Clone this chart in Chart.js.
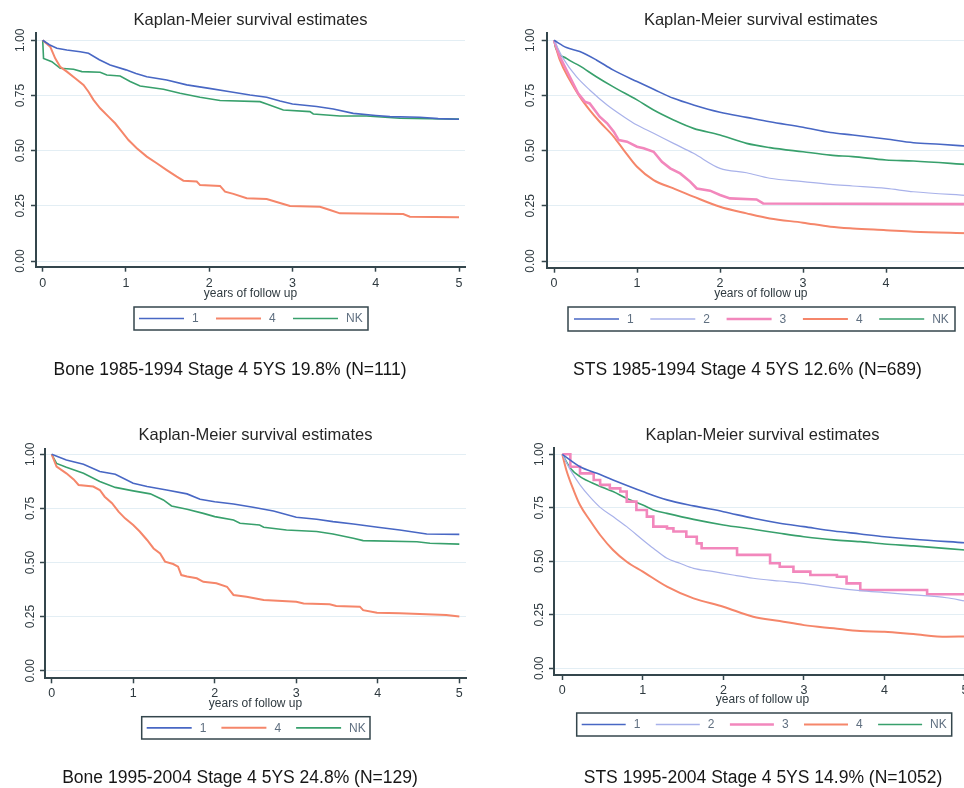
<!DOCTYPE html>
<html>
<head>
<meta charset="utf-8">
<script src="https://cdn.jsdelivr.net/npm/chart.js@4"></script>
<style>
  body { margin: 0; width: 964px; height: 788px; overflow: hidden; background: #fff; position: relative; }
  canvas { position: absolute; }
</style>
</head>
<body>
<canvas id="c1" width="480" height="400" style="left:0;top:0"></canvas>
<canvas id="c2" width="520" height="400" style="left:480px;top:0"></canvas>
<canvas id="c3" width="480" height="388" style="left:0;top:400px"></canvas>
<canvas id="c4" width="520" height="388" style="left:480px;top:400px"></canvas>
<script>
const FONT = "'Liberation Sans', Arial, sans-serif"

const xTicks = [0, 1, 2, 3, 4, 5]
const yTicks = [0, 0.25, 0.5, 0.75, 1]
const groups3 = ['1', '4', 'NK']
const groups5 = ['1', '2', '3', '4', 'NK']

// [years, survival]
const bone8594_1 = [[0,1],[0.08,0.98],[0.17,0.964],[0.29,0.956],[0.45,0.948],[0.55,0.941],[0.68,0.912],[0.81,0.888],[1.0,0.866],[1.12,0.85],[1.25,0.835],[1.49,0.82],[1.73,0.798],[2.0,0.782],[2.25,0.767],[2.49,0.752],[2.69,0.742],[2.85,0.725],[3.0,0.711],[3.29,0.70],[3.49,0.689],[3.73,0.669],[4.0,0.659],[4.17,0.654],[4.53,0.651],[4.75,0.645],[5,0.642]]
const bone8594_4 = [[0,1],[0.09,0.971],[0.15,0.918],[0.21,0.88],[0.29,0.858],[0.39,0.828],[0.49,0.798],[0.55,0.767],[0.61,0.73],[0.69,0.692],[0.79,0.654],[0.87,0.624],[0.95,0.586],[1.03,0.548],[1.13,0.511],[1.25,0.473],[1.37,0.443],[1.49,0.412],[1.61,0.382],[1.69,0.364],[1.85,0.36],[1.89,0.344],[2.13,0.34],[2.19,0.314],[2.29,0.304],[2.45,0.284],[2.69,0.281],[2.89,0.258],[2.97,0.249],[3.33,0.246],[3.45,0.231],[3.57,0.216],[4.33,0.213],[4.41,0.201],[5,0.198]]
const bone8594_nk = [[0,1],[0.01,0.918],[0.11,0.903],[0.21,0.873],[0.37,0.869],[0.47,0.858],[0.69,0.855],[0.77,0.843],[0.93,0.838],[1.05,0.813],[1.17,0.793],[1.45,0.778],[1.65,0.76],[1.89,0.742],[2.13,0.727],[2.61,0.722],[2.69,0.711],[2.89,0.684],[3.21,0.677],[3.25,0.666],[3.57,0.657],[3.89,0.657],[4.29,0.647],[5,0.643]]

const sts8594_1 = [[0,1],[0.15,0.967],[0.31,0.949],[0.51,0.911],[0.71,0.866],[1.0,0.813],[1.2,0.778],[1.44,0.737],[1.68,0.707],[2.0,0.674],[2.32,0.651],[2.6,0.631],[3.0,0.606],[3.33,0.582],[3.6,0.571],[4.0,0.553],[4.33,0.536],[4.65,0.529],[5,0.52]]
const sts8594_2 = [[0,1],[0.11,0.918],[0.27,0.835],[0.43,0.775],[0.64,0.707],[0.84,0.654],[1.0,0.616],[1.2,0.579],[1.44,0.533],[1.68,0.488],[2.0,0.42],[2.32,0.40],[2.6,0.375],[3.0,0.36],[3.33,0.347],[3.6,0.34],[4.0,0.329],[4.33,0.314],[5,0.297]]
const sts8594_3 = [[0,1],[0.07,0.926],[0.19,0.835],[0.29,0.76],[0.37,0.722],[0.43,0.714],[0.49,0.684],[0.55,0.654],[0.64,0.624],[0.72,0.586],[0.78,0.548],[0.88,0.541],[1.0,0.518],[1.08,0.511],[1.2,0.495],[1.3,0.45],[1.4,0.42],[1.52,0.397],[1.64,0.36],[1.72,0.329],[1.88,0.319],[2.0,0.299],[2.12,0.284],[2.44,0.279],[2.52,0.261],[5,0.258]]
const sts8594_4 = [[0,1],[0.07,0.911],[0.19,0.82],[0.31,0.745],[0.43,0.684],[0.55,0.631],[0.72,0.563],[0.84,0.503],[1.0,0.427],[1.2,0.367],[1.44,0.329],[1.68,0.292],[2.0,0.246],[2.32,0.216],[2.6,0.193],[3.0,0.174],[3.33,0.156],[3.6,0.148],[4.0,0.14],[4.33,0.133],[5,0.126]]
const sts8594_nk = [[0,1],[0.02,0.965],[0.15,0.918],[0.31,0.884],[0.51,0.835],[0.71,0.79],[1.0,0.73],[1.2,0.684],[1.44,0.639],[1.68,0.601],[2.0,0.571],[2.32,0.533],[2.6,0.514],[3.0,0.495],[3.33,0.48],[3.6,0.473],[4.0,0.458],[4.33,0.453],[5,0.437]]

const bone9504_1 = [[0,1],[0.18,0.974],[0.39,0.954],[0.59,0.92],[0.78,0.908],[1.0,0.866],[1.17,0.851],[1.41,0.835],[1.66,0.817],[1.82,0.792],[2.0,0.781],[2.23,0.77],[2.47,0.755],[2.72,0.738],[3.0,0.709],[3.25,0.70],[3.45,0.689],[3.7,0.678],[4.0,0.663],[4.27,0.65],[4.6,0.632],[5,0.63]]
const bone9504_4 = [[0,1],[0.06,0.943],[0.18,0.912],[0.27,0.884],[0.33,0.858],[0.51,0.851],[0.59,0.835],[0.65,0.804],[0.74,0.774],[0.82,0.735],[0.9,0.704],[1.0,0.673],[1.08,0.643],[1.17,0.604],[1.25,0.565],[1.33,0.542],[1.39,0.504],[1.49,0.493],[1.55,0.481],[1.59,0.442],[1.66,0.435],[1.78,0.427],[1.86,0.411],[2.02,0.404],[2.15,0.388],[2.23,0.35],[2.39,0.342],[2.6,0.327],[3.0,0.319],[3.09,0.311],[3.41,0.307],[3.49,0.299],[3.78,0.296],[3.82,0.28],[3.99,0.268],[4.27,0.265],[4.84,0.257],[5,0.25]]
const bone9504_nk = [[0,1],[0.06,0.958],[0.18,0.94],[0.39,0.912],[0.59,0.874],[0.78,0.847],[1.0,0.831],[1.21,0.817],[1.37,0.789],[1.47,0.761],[1.66,0.746],[1.86,0.727],[2.0,0.712],[2.23,0.696],[2.31,0.681],[2.55,0.673],[2.6,0.663],[2.88,0.65],[3.25,0.643],[3.45,0.632],[3.7,0.612],[3.82,0.601],[4.48,0.596],[4.64,0.589],[5,0.585]]

const sts9504_1 = [[0,1],[0.22,0.942],[0.43,0.911],[0.63,0.88],[1.0,0.826],[1.3,0.787],[1.63,0.759],[2.0,0.732],[2.37,0.701],[2.7,0.678],[3.0,0.662],[3.37,0.642],[3.7,0.628],[4.0,0.615],[4.36,0.603],[5,0.587]]
const sts9504_2 = [[0,1],[0.1,0.927],[0.22,0.857],[0.34,0.802],[0.47,0.752],[0.63,0.709],[0.8,0.662],[1.0,0.6],[1.13,0.561],[1.3,0.514],[1.46,0.491],[1.63,0.467],[1.88,0.452],[2.12,0.436],[2.37,0.421],[2.7,0.408],[3.0,0.397],[3.37,0.377],[3.7,0.363],[4.0,0.354],[4.36,0.343],[4.77,0.33],[5,0.315]]
const sts9504_3 = [[0,1],[0.1,0.942],[0.22,0.911],[0.39,0.88],[0.47,0.857],[0.59,0.841],[0.72,0.826],[0.8,0.779],[0.92,0.74],[1.05,0.709],[1.13,0.662],[1.3,0.654],[1.38,0.639],[1.54,0.615],[1.67,0.584],[1.73,0.561],[2.17,0.53],[2.58,0.491],[2.7,0.475],[2.87,0.452],[3.08,0.436],[3.41,0.428],[3.53,0.397],[3.7,0.366],[4.53,0.346],[5,0.346]]
const sts9504_4 = [[0,1],[0.05,0.927],[0.14,0.833],[0.22,0.763],[0.34,0.693],[0.47,0.623],[0.63,0.553],[0.8,0.498],[1.0,0.452],[1.3,0.382],[1.63,0.327],[2.0,0.288],[2.37,0.241],[2.7,0.221],[3.0,0.202],[3.37,0.187],[3.7,0.174],[4.0,0.171],[4.36,0.16],[4.77,0.148],[5,0.149]]
const sts9504_nk = [[0,1],[0.1,0.935],[0.22,0.896],[0.43,0.857],[0.63,0.826],[0.8,0.794],[1.0,0.763],[1.13,0.74],[1.3,0.724],[1.63,0.696],[2.0,0.67],[2.37,0.65],[2.7,0.631],[3.0,0.615],[3.37,0.6],[3.7,0.592],[4.0,0.581],[4.36,0.572],[5,0.553]]

const colors = { '1': '#4867c4', '2': '#a9b2ea', '3': '#f287bc', '4': '#f5866a', 'NK': '#38a06c' }
const widths = { '1': 1.6, '2': 1.2, '3': 2.6, '4': 2.0, 'NK': 1.6 }
const AXIS = '#34464c'

// line drawing per curve: 'step' (Kaplan-Meier stairs), 'line' (straight), 'smooth'
const panels = [
  {
    id: 'c1', caption: 'Bone 1985-1994 Stage 4 5YS 19.8% (N=111)',
    groups: groups3, series: [bone8594_1, bone8594_4, bone8594_nk], draw: ['line', 'line', 'line'],
    x: [-0.0805, 5.072], y: [-0.0258, 1.033],
    pad: { left: 0, right: 15, top: 0, bottom: 93.3 },
    titlePad: { top: 10.8, bottom: 2.4 }, xPad: 4, xTitlePad: 5.5, yPad: -1,
    key: { box: [134, 307, 234, 23], start: 139, pitch: 77, len: 45 },
    cap: [230, 370]
  },
  {
    id: 'c2', caption: 'STS 1985-1994 Stage 4 5YS 12.6% (N=689)',
    groups: groups5, series: [sts8594_1, sts8594_2, sts8594_3, sts8594_4, sts8594_nk], draw: ['smooth', 'smooth', 'line', 'smooth', 'smooth'],
    x: [-0.088, 5.072], y: [-0.030, 1.033],
    pad: { left: 30.7, right: 25, top: 0, bottom: 92.3 },
    titlePad: { top: 10.8, bottom: 2.4 }, xPad: 3.5, xTitlePad: 6.5, yPad: -0.7,
    key: { box: [88, 307, 387, 24], start: 94, pitch: 76.3, len: 45 },
    cap: [267.5, 370]
  },
  {
    id: 'c3', caption: 'Bone 1995-2004 Stage 4 5YS 24.8% (N=129)',
    groups: groups3, series: [bone9504_1, bone9504_4, bone9504_nk], draw: ['line', 'line', 'line'],
    x: [-0.082, 5.082], y: [-0.035, 1.023],
    pad: { left: 9, right: 14, top: 0, bottom: 69.7 },
    titlePad: { top: 25.8, bottom: 3.7 }, xPad: 3, xTitlePad: 7.1, yPad: -2.4,
    key: { box: [141.7, 316.7, 228.3, 22.3], start: 146.7, pitch: 74.7, len: 45 },
    cap: [240, 378]
  },
  {
    id: 'c4', caption: 'STS 1995-2004 Stage 4 5YS 14.9% (N=1052)',
    groups: groups5, series: [sts9504_1, sts9504_2, sts9504_3, sts9504_4, sts9504_nk], draw: ['smooth', 'smooth', 'step', 'smooth', 'smooth'],
    x: [-0.103, 5.075], y: [-0.031, 1.028],
    pad: { left: 38, right: 29, top: 0, bottom: 73 },
    titlePad: { top: 25.8, bottom: 2.7 }, xPad: 3, xTitlePad: 7.8, yPad: -2.7,
    key: { box: [96.7, 313, 375, 23], start: 101.7, pitch: 74.1, len: 44 },
    cap: [283, 378]
  }
]

// boxed Stata-style key plus the caption under each graph
function keyAndCaption (p) {
  return {
    id: 'keyAndCaption',
    afterDraw (chart) {
      const ctx = chart.ctx
      const [bx, by, bw, bh] = p.key.box
      ctx.save()
      ctx.strokeStyle = AXIS
      ctx.lineWidth = 1.5
      ctx.strokeRect(bx, by, bw, bh)
      const cy = by + bh / 2
      ctx.font = '12px ' + FONT
      ctx.textBaseline = 'middle'
      ctx.textAlign = 'left'
      chart.data.datasets.forEach((ds, i) => {
        const x0 = p.key.start + i * p.key.pitch
        ctx.strokeStyle = ds.borderColor
        ctx.lineWidth = Math.max(ds.borderWidth, 1.5)
        ctx.beginPath()
        ctx.moveTo(x0, cy)
        ctx.lineTo(x0 + p.key.len, cy)
        ctx.stroke()
        ctx.fillStyle = '#5f6f80'
        ctx.fillText(ds.label, x0 + p.key.len + 8, cy + 0.5)
      })
      ctx.font = '17.5px ' + FONT
      ctx.fillStyle = '#161616'
      ctx.textAlign = 'center'
      ctx.fillText(p.caption, p.cap[0], p.cap[1])
      ctx.restore()
    }
  }
}

function build (p) {
  const ctx = document.getElementById(p.id).getContext('2d')

  const chart = new Chart(ctx, {
    type: 'line',
    data: {
      datasets: p.groups.map((g, i) => ({
        label: g,
        data: p.series[i].map(([x, y]) => ({ x, y })),
        borderColor: colors[g],
        borderWidth: widths[g],
        pointRadius: 0,
        fill: false,
        tension: 0,
        stepped: p.draw[i] === 'step' ? 'before' : false,
        cubicInterpolationMode: p.draw[i] === 'smooth' ? 'monotone' : 'default'
      }))
    },
    options: {
      responsive: false,
      animation: false,
      events: [],
      layout: { padding: p.pad },
      scales: {
        x: {
          type: 'linear',
          min: p.x[0],
          max: p.x[1],
          afterBuildTicks: s => { s.ticks = xTicks.map(v => ({ value: v })) },
          afterFit: s => { s.height = 40 },
          ticks: {
            color: '#2f3a40',
            font: { family: FONT, size: 12.5 },
            padding: p.xPad,
            maxRotation: 0,
            minRotation: 0,
            autoSkip: false,
            callback: v => String(v)
          },
          grid: { drawOnChartArea: false, drawTicks: true, tickLength: 5, tickColor: AXIS, tickWidth: 1.5 },
          border: { display: true, color: AXIS, width: 2 },
          title: {
            display: true,
            text: 'years of follow up',
            color: '#2f3a40',
            font: { family: FONT, size: 12 },
            padding: { top: 0, bottom: p.xTitlePad }
          }
        },
        y: {
          type: 'linear',
          min: p.y[0],
          max: p.y[1],
          afterBuildTicks: s => { s.ticks = yTicks.map(v => ({ value: v })) },
          afterFit: s => { s.width = 36 },
          ticks: {
            color: '#2f3a40',
            font: { family: FONT, size: 12 },
            padding: p.yPad,
            minRotation: 90,
            maxRotation: 90,
            crossAlign: 'center',
            autoSkip: false,
            callback: v => v.toFixed(2)
          },
          grid: { color: '#e3eef4', lineWidth: 1, drawTicks: true, tickLength: 5, tickColor: AXIS, tickWidth: 1.5 },
          border: { display: true, color: AXIS, width: 2 }
        }
      },
      plugins: {
        legend: { display: false },
        tooltip: { enabled: false },
        title: {
          display: true,
          fullSize: false,
          text: 'Kaplan-Meier survival estimates',
          color: '#262626',
          font: { family: FONT, size: 16.5, weight: 'normal' },
          padding: p.titlePad
        }
      }
    },
    plugins: [keyAndCaption(p)]
  })
  return chart
}

panels.forEach(build)
</script>
</body>
</html>
